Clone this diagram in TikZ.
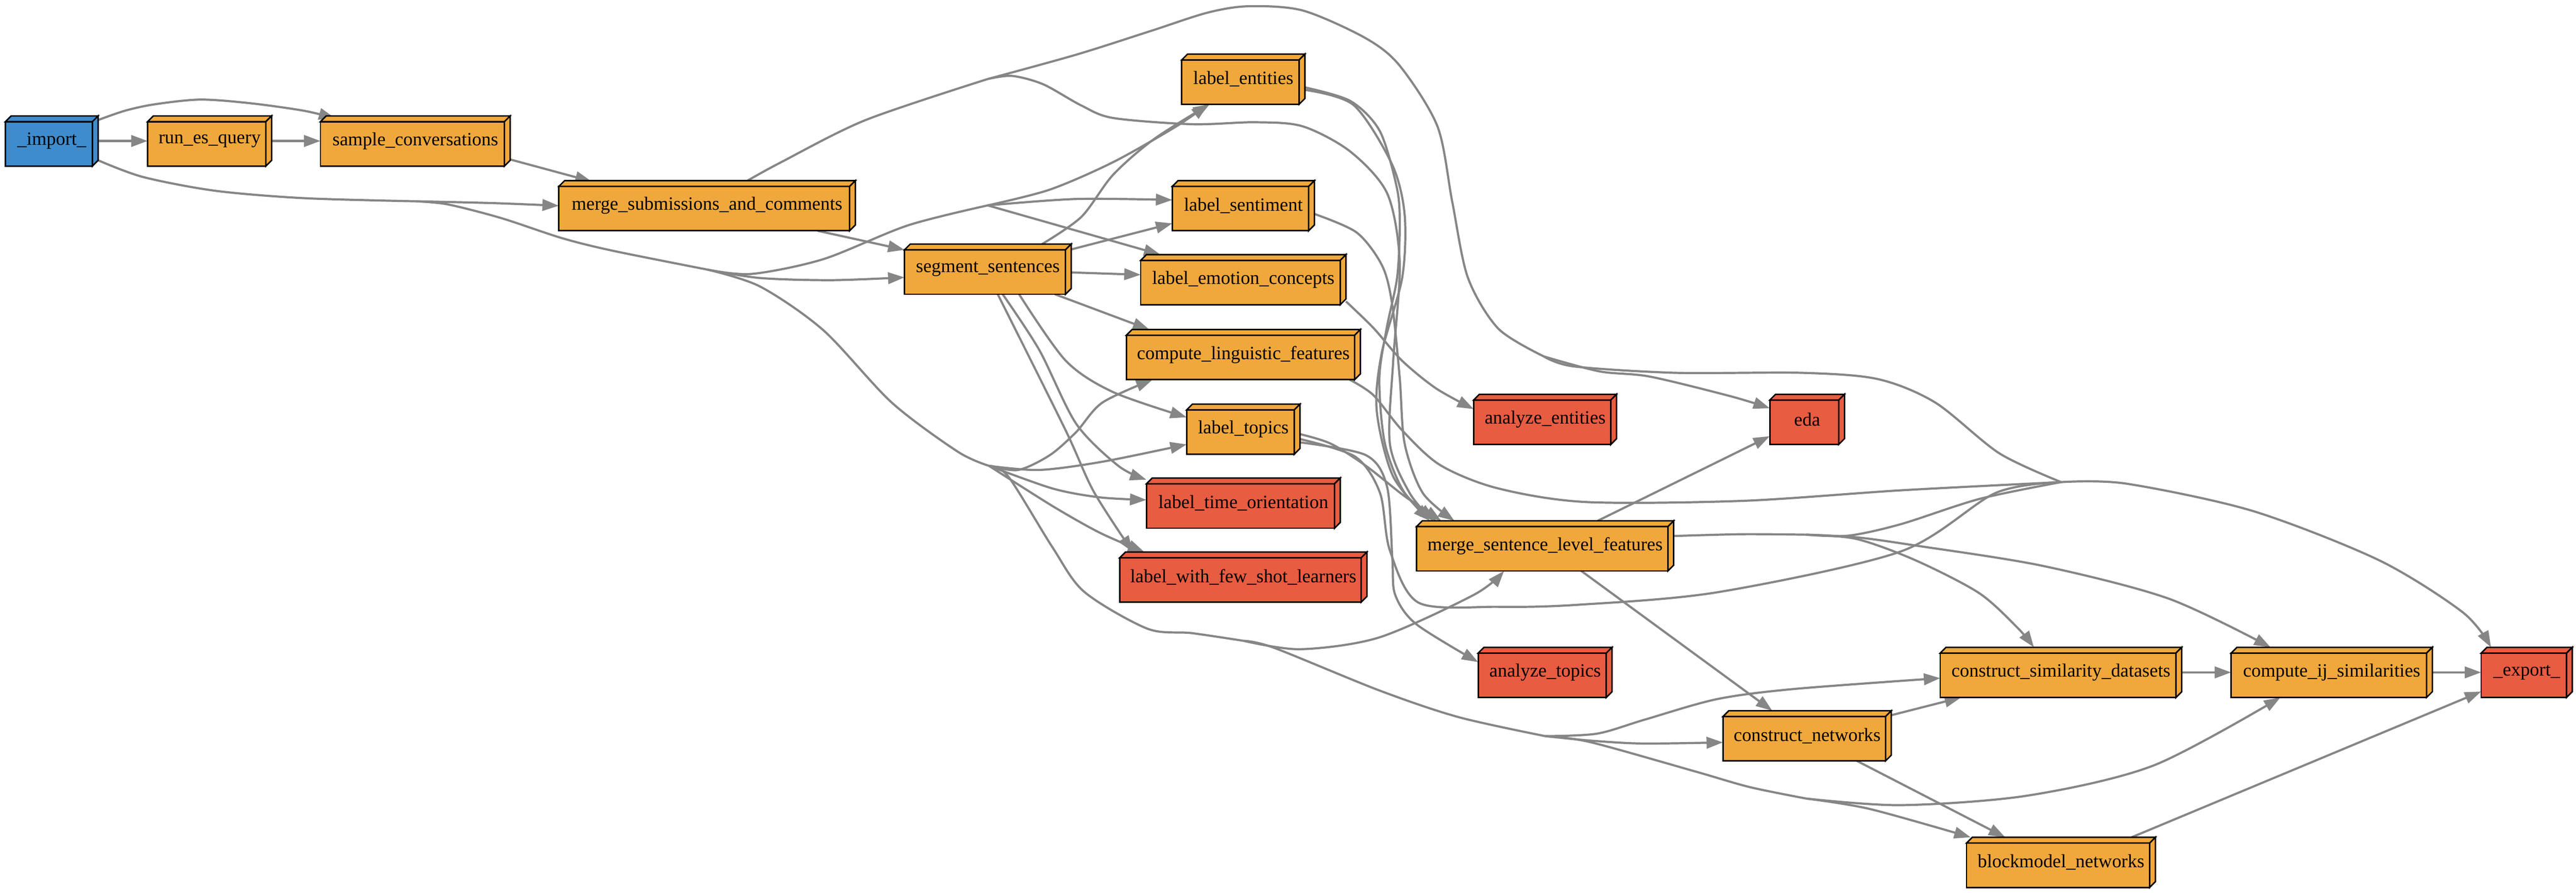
\documentclass[tikz,border=0pt]{standalone}
\usepackage{fontspec}
\setmainfont{Liberation Serif}
\usetikzlibrary{calc}
\usetikzlibrary{arrows.meta}
\pgfdeclarelayer{edgelayer}
\pgfdeclarelayer{boxlayer}
\pgfsetlayers{edgelayer,boxlayer,main}
\definecolor{stepgray}{RGB}{134,134,134}
\definecolor{steporange}{RGB}{240,168,60}
\definecolor{importblue}{RGB}{62,140,205}
\definecolor{sinkred}{RGB}{232,92,65}
\tikzset{
	stepbox/.style={inner sep=0pt, outer sep=0pt, minimum height=0.61cm, font=\fontsize{6.5}{7.8}\selectfont},
	wire/.style={draw=stepgray, line width=0.75pt},
	flow/.style={wire, -{Triangle[length=0.2cm,width=0.14cm]}},
}

\begin{document}
\begin{tikzpicture}[x=0.02cm, y=-0.02cm]
	\useasboundingbox (0,0) rectangle (1568,543.4);
	
	% steps
	\node[stepbox, minimum width=1.13cm] (imp) at (31.5,85.8) {\_import\_};
	\node[stepbox, minimum width=1.51cm] (run) at (127.6,85.8) {run\_es\_query};
	\node[stepbox, minimum width=2.31cm] (sc) at (252.8,85.8) {sample\_conversations};
	\node[stepbox, minimum width=3.61cm] (msc) at (430.4,125.2) {merge\_submissions\_and\_comments};
	\node[stepbox, minimum width=2.03cm] (seg) at (601.3,163.8) {segment\_sentences};
	\node[stepbox, minimum width=1.50cm] (ent) at (756.8,48.2) {label\_entities};
	\node[stepbox, minimum width=1.73cm] (sent) at (756.8,125.2) {label\_sentiment};
	\node[stepbox, minimum width=2.50cm] (emo) at (756.8,170.2) {label\_emotion\_concepts};
	\node[stepbox, minimum width=2.85cm] (ling) at (756.8,215.8) {compute\_linguistic\_features};
	\node[stepbox, minimum width=1.38cm] (top) at (756.8,261.2) {label\_topics};
	\node[stepbox, minimum width=2.36cm] (time) at (756.8,306.2) {label\_time\_orientation};
	\node[stepbox, minimum width=3.01cm] (few) at (756.8,351.2) {label\_with\_few\_shot\_learners};
	\node[stepbox, minimum width=1.74cm] (aent) at (940.5,255.2) {analyze\_entities};
	\node[stepbox, minimum width=3.13cm] (msl) at (940.5,332.2) {merge\_sentence\_level\_features};
	\node[stepbox, minimum width=1.63cm] (atop) at (940.5,409.2) {analyze\_topics};
	\node[stepbox, minimum width=0.91cm] (eda) at (1100,255.2) {eda};
	\node[stepbox, minimum width=2.05cm] (cnet) at (1100,447.8) {construct\_networks};
	\node[stepbox, minimum width=2.94cm] (csd) at (1254.5,409.2) {construct\_similarity\_datasets};
	\node[stepbox, minimum width=2.30cm] (bm) at (1254.5,524.8) {blockmodel\_networks};
	\node[stepbox, minimum width=2.45cm] (cij) at (1419.3,409.2) {compute\_ij\_similarities};
	\node[stepbox, minimum width=1.11cm] (exp) at (1538,409.2) {\_export\_};
	
	% points where edges meet
	\coordinate (j1) at (253,122.5);
	\coordinate (j2) at (430.7,164.1);
	\coordinate (j3) at (601.2,125);
	\coordinate (j4) at (602,283.5);
	\coordinate (j5) at (757,390);
	\coordinate (j6) at (940.6,448);
	\coordinate (j7) at (1099.5,486);
	\coordinate (j8) at (601.2,48.1);
	\coordinate (j9) at (939.7,216.9);
	\coordinate (j10) at (1254.6,293.4);
	\coordinate (j11) at (1099.2,325.4);
	
	% 3d boxes
	\begin{pgfonlayer}{boxlayer}
	\foreach \n/\c in {imp/importblue, run/steporange, sc/steporange, msc/steporange, seg/steporange,
		ent/steporange, sent/steporange, emo/steporange, ling/steporange, top/steporange,
		time/sinkred, few/sinkred, aent/sinkred, msl/steporange, atop/sinkred, eda/sinkred,
		cnet/steporange, csd/steporange, bm/steporange, cij/steporange, exp/sinkred} {
		\filldraw[fill=\c, line width=0.5pt] ([shift={(0,3.5)}]\n.north west) rectangle ([shift={(-3.5,0)}]\n.south east);
		\filldraw[fill=\c, line width=0.5pt] ([shift={(0,3.5)}]\n.north west) -- ([shift={(3.5,0)}]\n.north west) -- (\n.north east) -- ([shift={(-3.5,3.5)}]\n.north east) -- cycle;
		\filldraw[fill=\c, line width=0.5pt] ([shift={(-3.5,3.5)}]\n.north east) -- (\n.north east) -- ([shift={(0,-3.5)}]\n.south east) -- ([shift={(-3.5,0)}]\n.south east) -- cycle;
	}
	\end{pgfonlayer}
	
	\begin{pgfonlayer}{edgelayer}
	% top row
	\draw[flow] (imp.east) -- (run.west);
	\draw[flow] (run.east) -- (sc.west);
	\draw[flow] plot[smooth] coordinates {([shift={(0,2.5)}]imp.north east) (76,67.4) (94,63.5) (122,60.6) (153,62.9) (185,67.4) ([shift={(9,1.5)}]sc.north west)};
	\draw[wire] plot[smooth] coordinates {([shift={(0,-3.5)}]imp.south east) (87,107.7) (131,116.1) (185,120.6) (j1)};
	\draw[flow] plot[smooth] coordinates {(j1) (300,123.6) (msc.west)};
	\draw[wire] plot[smooth] coordinates {(j1) (272.6,124.4) (305,132.7) (342,144.9) (373,152.6) (j2)};
	\draw[flow] ([shift={(0,-4)}]sc.south east) -- ([shift={(20,0.5)}]msc.north west);
	\draw[flow] ([shift={(-23,0)}]msc.south east) -- ([shift={(0,3.5)}]seg.north west);
	\draw[wire] plot[smooth] coordinates {([shift={(24.6,0)}]msc.north) (475.5,98.7) (526.8,73.1) (j8)};
	
	% arc over the top
	\draw[wire] plot[smooth] coordinates {(j8) (655,33.3) (700,19) (735,7.7) (760,3.8) (793,6.4) (831,23.1) (852,40) (875,77) (884,123) (893.5,169) (912,200) (j9)};
	\draw[flow] plot[smooth] coordinates {(j9) (973.5,226) (1004.3,229.2) (1053.6,241.2) ([shift={(0,8.5)}]eda.north west)};
	\draw[wire] plot[smooth] coordinates {(j9) (958,223) (1020,226.9) (1097,226.9) (1143,230.7) (1178,245) (1217,275.9) (j10)};
	\draw[flow] plot[smooth] coordinates {(j10) (1294,294.3) (1371,310.9) (1448,340.9) (1499,372.6) ([shift={(6,0)}]exp.north west)};
	
	% bundle into merge_sentence_level_features
	\draw[flow] plot[smooth] coordinates {(j8) (616,46.2) (635,51.3) (658,64.1) (677.5,71.8) (725.6,75.6) (764,74.4) (793,76.9) (822,92.3) (844.5,118) (852,160) (848,220) (846,270) (858,300) ([shift={(10,0)}]msl.north west)};
	\draw[flow] plot[smooth] coordinates {([shift={(0,5)}]ent.east) (822,61.5) (840,80) (850.4,115) (852,138) (850.4,169) (844,200) (839.6,230.7) (843,270) (855,300) ([shift={(12,0)}]msl.north west)};
	\draw[flow] plot[smooth] coordinates {([shift={(0,6.5)}]ent.east) (824,64) (847.3,100) (855,130.7) (853.5,169) (841,215) (838,250) (848,290) ([shift={(8,0)}]msl.north west)};
	\draw[flow] plot[smooth] coordinates {([shift={(0,5)}]sent.east) (825.8,141.5) (841.2,161.5) (847.3,184.6) (852,230) (855,270) (866,300) ([shift={(23,0)}]msl.north west)};
	\draw[flow] plot[smooth] coordinates {([shift={(0,3)}]top.east) (810,270) (831.4,283.5) (855,302) ([shift={(15,0)}]msl.north west)};
	
	% emotions, linguistic features, topics
	\draw[flow] plot[smooth] coordinates {([shift={(0,-2)}]emo.south east) (836,199.6) (853.3,219.4) (874,236.3) ([shift={(0,9)}]aent.north west)};
	\draw[wire] plot[smooth] coordinates {([shift={(-6.5,0)}]ling.south east) (836,240.5) (853.3,261.7) (876.4,282.9) (911,297) (965,305.5) (1061,304.8) (1157,298.4) (j10)};
	\draw[flow] plot[smooth] coordinates {([shift={(0,8)}]top.east) (831.4,277) (844.3,296.3) (847.5,340) (849.2,361.9) (862,379.8) ([shift={(0,9)}]atop.north west)};
	\draw[wire] plot[smooth] coordinates {([shift={(0,6)}]top.east) (825,278) (840,300) (846,335) (863.5,366.8) (911.6,369.3) (959.7,368.1) (1045.6,360.4) (1157,335.6) (1214.7,300) (j10)};
	
	% out of merge_sentence_level_features
	\draw[flow] ([shift={(32,0)}]msl.north) -- ([shift={(0,-5)}]eda.south west);
	\draw[flow] ([shift={(22,0)}]msl.south) -- ([shift={(30,0)}]cnet.north west);
	\draw[wire] plot[smooth] coordinates {([shift={(0,-6)}]msl.east) (1060.8,325.1) (j11)};
	\draw[wire] plot[smooth] coordinates {(j11) (1125,326) (1157,319) (1205,303.6) (j10)};
	\draw[flow] plot[smooth] coordinates {(j11) (1130,328) (1166,341) (1204.6,360.9) (1228,382) ([shift={(57,0)}]csd.north west)};
	\draw[flow] plot[smooth] coordinates {(j11) (1130,327) (1166,332) (1243,344.3) (1320,364.3) ([shift={(24,0)}]cij.north west)};
	
	% import fan
	\draw[flow] plot[smooth] coordinates {(j2) (462.7,169.2) (506.3,170.5) ([shift={(0,5)}]seg.west)};
	\draw[wire] plot[smooth] coordinates {(j2) (457.6,166.7) (501.2,157.7) (552.5,137.2) (j3)};
	\draw[flow] plot[smooth] coordinates {(j3) (655,121.1) ([shift={(0,-3.5)}]sent.west)};
	\draw[flow] (j3) -- ([shift={(12,0)}]emo.north west);
	\draw[flow] plot[smooth] coordinates {(j3) (639,115.4) (677.5,98.7) (716,76.9) ([shift={(16,0)}]ent.south west)};
	
	% out of segment_sentences
	\draw[flow] plot[smooth] coordinates {([shift={(33,0)}]seg.north) (658.2,132) (677.5,106.4) (702.5,84.6) ([shift={(17,0)}]ent.south west)};
	\draw[flow] ([shift={(0,-12)}]seg.east) -- ([shift={(0,-4.5)}]sent.south west);
	\draw[flow] ([shift={(0,2)}]seg.east) -- ([shift={(0,-3)}]emo.west);
	\draw[flow] ([shift={(-10,0)}]seg.south east) -- ([shift={(14,0)}]ling.north west);
	\draw[flow] plot[smooth] coordinates {([shift={(19,0)}]seg.south) (648.6,219.4) (677.5,238.6) ([shift={(0,8)}]top.north west)};
	\draw[flow] plot[smooth] coordinates {([shift={(9,0)}]seg.south) (632.6,213) (655,257.8) (680.7,283.5) ([shift={(0,1)}]time.north west)};
	\draw[flow] plot[smooth] coordinates {([shift={(6,0)}]seg.south) (648.4,261.4) (665.7,299.1) ([shift={(8,0)}]few.north west)};
	
	% lower fan
	\draw[wire] plot[smooth] coordinates {(j2) (462.7,174.4) (501.2,201) (542.8,245) (583,274.9) (j4)};
	\draw[flow] plot[smooth] coordinates {(j4) (619.8,286) (639,277) (655,263) (671,245) ([shift={(16,0)}]ling.south west)};
	\draw[flow] plot[smooth] coordinates {(j4) (632.6,286) (671,281) ([shift={(0,-6)}]top.south west)};
	\draw[flow] plot[smooth] coordinates {(j4) (640.7,297.3) (669.6,302.7) ([shift={(0,-2)}]time.west)};
	\draw[flow] plot[smooth] coordinates {(j4) (640.7,308) (669.6,324.3) ([shift={(15,0)}]few.north west)};
	\draw[wire] plot[smooth] coordinates {(j4) (613.8,290.1) (640.7,333.2) (660,360.2) (698.4,382.6) (725.4,385.3) (j5)};
	\draw[flow] plot[smooth] coordinates {(j5) (791.5,395.1) (839.6,387.9) (897.3,361.9) ([shift={(-25,0)}]msl.south)};
	\draw[wire] plot[smooth] coordinates {(j5) (775.4,394.2) (839.6,420.2) (887.7,436.4) (j6)};
	\draw[flow] plot[smooth] coordinates {(j6) (967.8,450.7) (999.9,452.5) ([shift={(0,4)}]cnet.west)};
	\draw[flow] plot[smooth] coordinates {(j6) (972,446.5) (1001,438) (1045,425.5) (1092,419.3) ([shift={(0,3.5)}]csd.west)};
	\draw[wire] plot[smooth] coordinates {(j6) (967.8,451.6) (1031.9,469.5) (1065,479) (j7)};
	\draw[flow] plot[smooth] coordinates {(j7) (1157.2,490) (1234.1,484.2) (1311,465.8) ([shift={(30,0)}]cij.south west)};
	\draw[flow] plot[smooth] coordinates {(j7) (1138,492.3) ([shift={(2.5,0)}]bm.north west)};
	
	% right side
	\draw[flow] ([shift={(0,2.7)}]cnet.north east) -- ([shift={(12.7,0)}]csd.south west);
	\draw[flow] ([shift={(-21,0)}]cnet.south east) -- ([shift={(23.5,0)}]bm.north west);
	\draw[flow] ([shift={(-14.5,0)}]bm.north east) -- ([shift={(0,-3.6)}]exp.south west);
	\draw[flow] (csd.east) -- (cij.west);
	\draw[flow] (cij.east) -- (exp.west);
	\end{pgfonlayer}
	
\end{tikzpicture}
\end{document}
